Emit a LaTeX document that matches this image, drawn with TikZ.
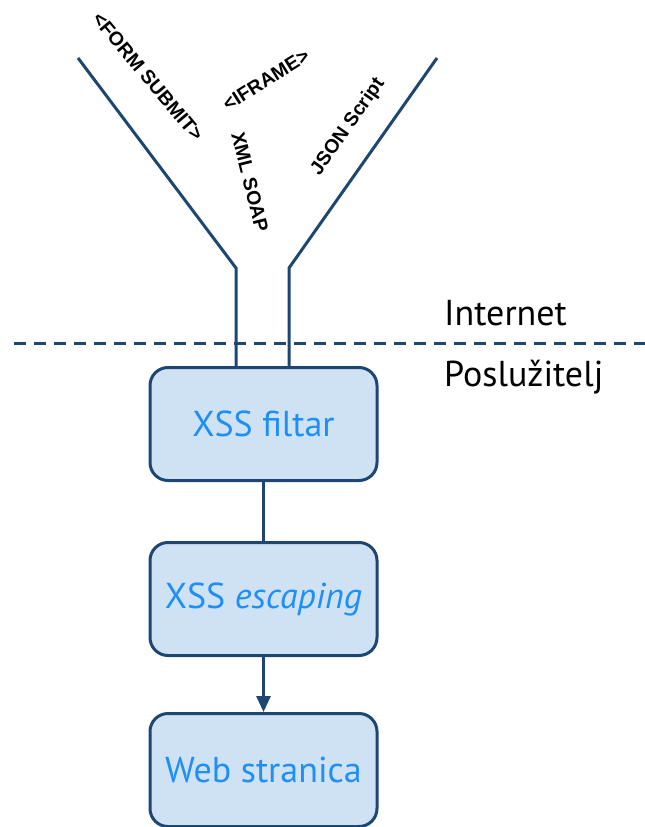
\documentclass[tikz,border=0pt]{standalone}
\usepackage{fontspec}
\setmainfont{PT Sans}
\newfontfamily\tagfont{Liberation Sans}
\usetikzlibrary{arrows.meta}
\definecolor{edge}{HTML}{1D4672}
\definecolor{boxfill}{HTML}{CFE2F3}
\definecolor{txtblue}{HTML}{1E8FF5}
\tikzset{
  stage/.style={draw=edge, line width=3pt, fill=boxfill, rounded corners=18pt,
    minimum width=227pt, minimum height=113pt, inner sep=0pt,
    text=txtblue, font=\fontsize{36}{40}\selectfont},
  link/.style={draw=edge, line width=3pt},
  tag/.style={font=\tagfont\bfseries\fontsize{19.5}{21}\selectfont, inner sep=0pt},
  zone/.style={font=\fontsize{36}{40}\selectfont, anchor=west, inner sep=0pt}
}
\begin{document}
\begin{tikzpicture}[x=1pt,y=-1pt]
\useasboundingbox (0,0) rectangle (645,827);
\node[stage] (b1) at (263.5,424) {XSS filtar};
\node[stage] (b2) at (263.5,599) {XSS \textit{escaping}};
\node[stage] (b3) at (263.5,770) {Web stranica};
\coordinate (lt) at (78,58);
\coordinate (lk) at (236,268);
\coordinate (rt) at (437,58);
\coordinate (rk) at (289,268);
\draw[link] (lt) -- (lk) -- (lk |- b1.north);
\draw[link] (rt) -- (rk) -- (rk |- b1.north);
\coordinate (dl) at (14,343);
\coordinate (dr) at (645,343);
\draw[link, dash pattern=on 12pt off 8pt] (dl) -- (dr);
\draw[link] (b1.south) -- (b2.north);
\draw[link, -{Triangle[length=16pt,width=14pt]}] (b2.south) -- (b3.north);
\node[zone] (inet) at (444,313) {Internet};
\node[zone] (srv) at (444,377) {Poslužitelj};
\node[tag, rotate=-50] (form) at (148,77) {<FORM SUBMIT>};
\node[tag, rotate=32] (ifr) at (266,80) {<IFRAME>};
\node[tag, rotate=-76] (xml) at (250,182) {XML SOAP};
\node[tag, rotate=55] (json) at (348,127) {JSON Script};
\end{tikzpicture}
\end{document}
